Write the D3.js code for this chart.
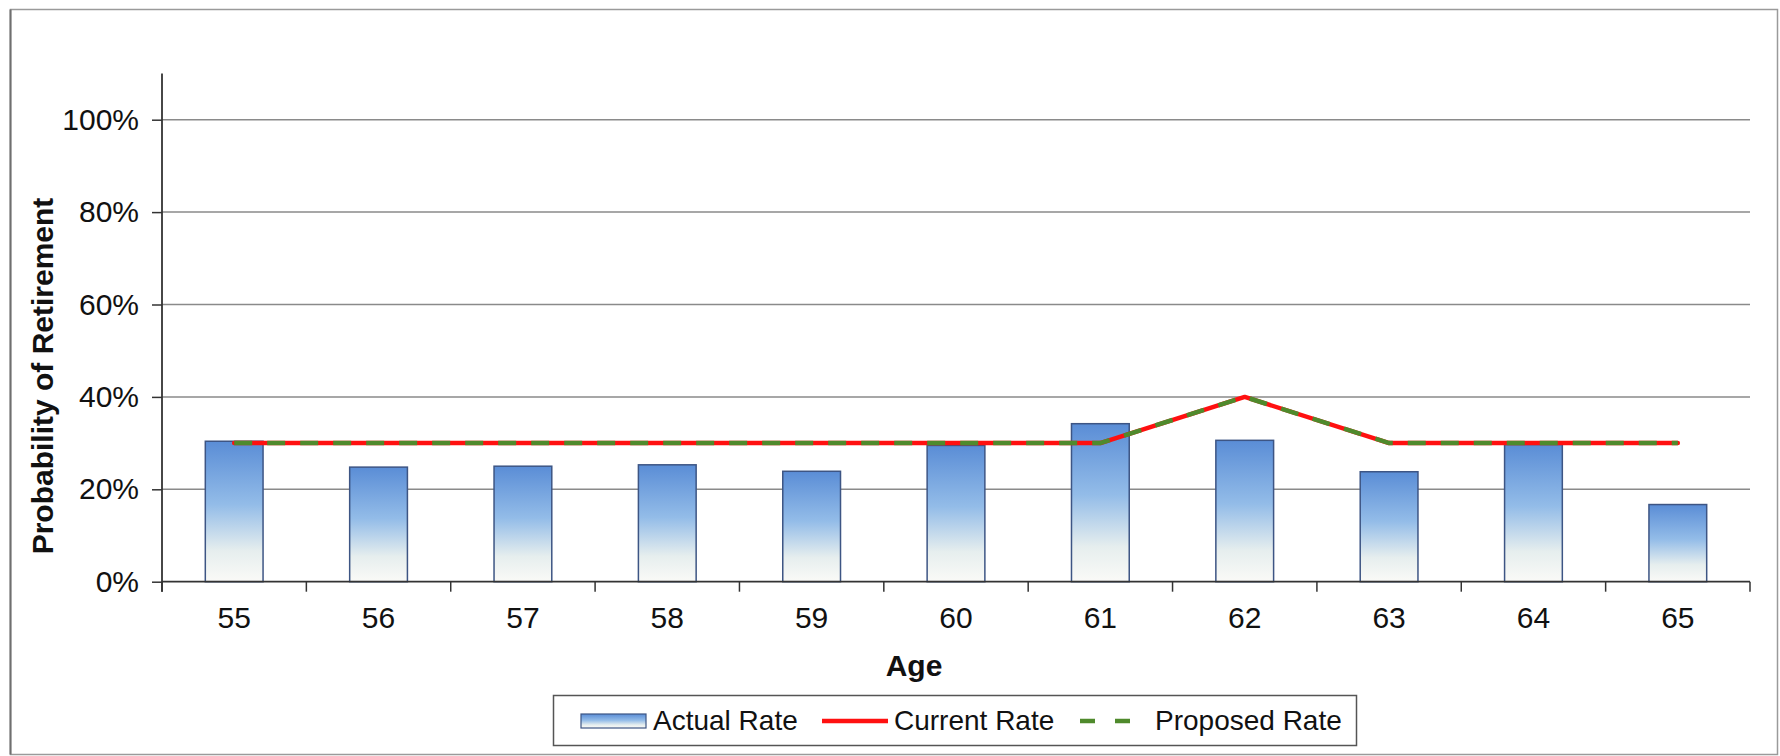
<!DOCTYPE html>
<html>
<head>
<meta charset="utf-8">
<script src="https://cdn.jsdelivr.net/npm/d3@7"></script>
<style>
  html, body { margin: 0; padding: 0; background: #fff; }
  svg { display: block; font-family: "Liberation Sans", Arial, sans-serif; }
</style>
</head>
<body>
<svg id="chart" width="1780" height="756"></svg>
<script>
// ---- data ----
const ages = ["55", "56", "57", "58", "59", "60", "61", "62", "63", "64", "65"];
const actualRate = [0.304, 0.248, 0.250, 0.253, 0.239, 0.295, 0.342, 0.306, 0.238, 0.297, 0.167];
const currentRate = [0.30, 0.30, 0.30, 0.30, 0.30, 0.30, 0.30, 0.40, 0.30, 0.30, 0.30];
const proposedRate = [0.30, 0.30, 0.30, 0.30, 0.30, 0.30, 0.30, 0.40, 0.30, 0.30, 0.30];
const yTicks = [0, 0.2, 0.4, 0.6, 0.8, 1.0];
const seriesNames = ["Actual Rate", "Current Rate", "Proposed Rate"];

// ---- layout ----
const svg = d3.select("#chart");
const pLeft = 162, pRight = 1750, pTop = 73.5, pBottom = 581.7;
const fontSize = 30, legendFont = 28;

const x = d3.scaleBand().domain(ages).range([pLeft, pRight]).paddingInner(0.6).paddingOuter(0.3);
const y = d3.scaleLinear().domain([0, 1.1]).range([pBottom, pTop]);
const cx = d => x(d) + x.bandwidth() / 2;

// outer frame
svg.append("rect").attr("x", 10.5).attr("y", 9.5).attr("width", 1767).attr("height", 745)
  .attr("fill", "#fff").attr("stroke", "#9a9a9a").attr("stroke-width", 1.5);
svg.append("line").attr("x1", 10.5).attr("x2", 10.5).attr("y1", 9.5).attr("y2", 754.5)
  .attr("stroke", "#6f6f6f").attr("stroke-width", 2);

// gradient
const defs = svg.append("defs");
const grad = defs.append("linearGradient").attr("id", "barGrad")
  .attr("x1", 0).attr("y1", 0).attr("x2", 0).attr("y2", 1);
[[0, "#5a8dd6"], [0.45, "#93bce8"], [0.78, "#e6eeee"], [1, "#fafaf7"]].forEach(([o, c]) =>
  grad.append("stop").attr("offset", o).attr("stop-color", c));

// gridlines
svg.append("g").selectAll("line").data(yTicks.filter(t => t > 0)).join("line")
  .attr("x1", pLeft).attr("x2", pRight)
  .attr("y1", d => y(d)).attr("y2", d => y(d))
  .attr("stroke", "#8a8a8a").attr("stroke-width", 1.5);

// bars
svg.append("g").selectAll("rect").data(ages).join("rect")
  .attr("x", d => x(d)).attr("width", x.bandwidth())
  .attr("y", (d, i) => y(actualRate[i]))
  .attr("height", (d, i) => y(0) - y(actualRate[i]))
  .attr("fill", "url(#barGrad)").attr("stroke", "#3d5584").attr("stroke-width", 1.5);

// y axis
const yAxis = svg.append("g").attr("transform", `translate(${pLeft},0)`)
  .call(d3.axisLeft(y).tickValues(yTicks).tickFormat(d3.format(".0%")).tickSize(10).tickSizeOuter(0).tickPadding(13));
yAxis.select(".domain").attr("stroke", "#333").attr("stroke-width", 1.8)
  .attr("d", `M0,${pTop}V${pBottom + 10}`);
yAxis.selectAll(".tick line").attr("stroke", "#333").attr("stroke-width", 1.5);
yAxis.selectAll(".tick text").attr("font-size", fontSize).attr("fill", "#111")
  .attr("font-family", "Liberation Sans, Arial, sans-serif");

// x axis
const xg = svg.append("g");
xg.append("line").attr("x1", pLeft).attr("x2", pRight).attr("y1", pBottom).attr("y2", pBottom)
  .attr("stroke", "#333").attr("stroke-width", 1.8);
const bounds = d3.range(ages.length + 1).map(i => x.range()[0] + i * x.step());
xg.selectAll("line.tk").data(bounds).join("line").attr("class", "tk")
  .attr("x1", d => d).attr("x2", d => d).attr("y1", pBottom).attr("y2", pBottom + 10)
  .attr("stroke", "#333").attr("stroke-width", 1.5);
xg.selectAll("text").data(ages).join("text")
  .attr("x", d => cx(d)).attr("y", 628).attr("text-anchor", "middle")
  .attr("font-size", fontSize).attr("fill", "#111").text(d => d);

// axis titles
svg.append("text").attr("x", 914).attr("y", 676).attr("text-anchor", "middle")
  .attr("font-size", fontSize).attr("font-weight", "bold").attr("fill", "#111").text("Age");
svg.append("text").attr("transform", "translate(53,376) rotate(-90)").attr("text-anchor", "middle")
  .attr("font-size", fontSize).attr("font-weight", "bold").attr("fill", "#111")
  .text("Probability of Retirement");

// lines
const line = d3.line().x((d, i) => cx(ages[i])).y(d => y(d));
svg.append("path").datum(currentRate).attr("d", line)
  .attr("fill", "none").attr("stroke", "#ff1010").attr("stroke-width", 4.5)
  .attr("stroke-linejoin", "round").attr("stroke-linecap", "round");
svg.append("path").datum(proposedRate).attr("d", line)
  .attr("fill", "none").attr("stroke", "#4f8a2c").attr("stroke-width", 4.5)
  .attr("stroke-dasharray", "18,15");

// legend
const lg = svg.append("g");
lg.append("rect").attr("x", 553.5).attr("y", 695.5).attr("width", 803).attr("height", 50)
  .attr("fill", "#fff").attr("stroke", "#555").attr("stroke-width", 1.5);
const ly = 721;
lg.append("rect").attr("x", 581).attr("y", 714).attr("width", 65).attr("height", 14)
  .attr("fill", "url(#barGrad)").attr("stroke", "#3d5584").attr("stroke-width", 1.2);
lg.append("line").attr("x1", 822).attr("x2", 888).attr("y1", ly).attr("y2", ly)
  .attr("stroke", "#ff1010").attr("stroke-width", 4.5);
lg.append("line").attr("x1", 1080).attr("x2", 1133).attr("y1", ly).attr("y2", ly)
  .attr("stroke", "#4f8a2c").attr("stroke-width", 4.5).attr("stroke-dasharray", "15,20");
const legendX = [653, 894, 1155];
lg.selectAll("text").data(seriesNames).join("text")
  .attr("x", (d, i) => legendX[i]).attr("y", 730)
  .attr("font-size", legendFont).attr("fill", "#111").text(d => d);
</script>
</body>
</html>
